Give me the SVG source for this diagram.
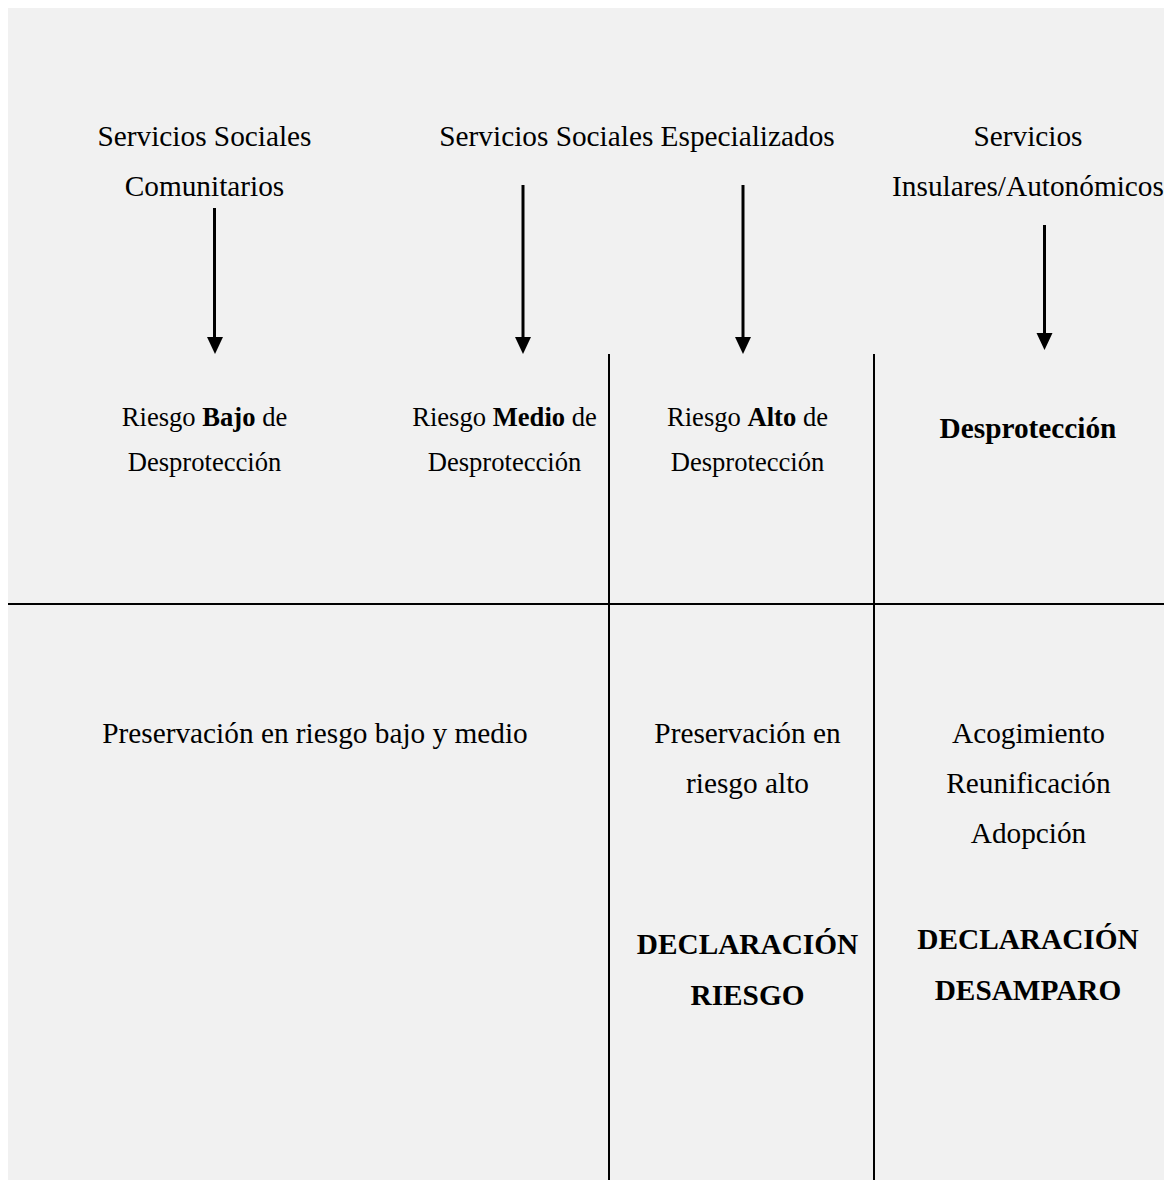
<svg xmlns="http://www.w3.org/2000/svg" width="1164" height="1180" viewBox="0 0 1164 1180">
  <style>
    text { font-family: "Liberation Serif", "Times New Roman", serif; fill: #000; text-anchor: middle; }
    .h { font-size: 29.3px; }
    .s { font-size: 26.6px; }
    .b { font-weight: bold; }
    .rule { stroke: #000; stroke-width: 2; fill: none; }
    .arrow { stroke: #000; stroke-width: 3; fill: none; }
    .head { fill: #000; }
  </style>

  <rect x="0" y="0" width="1164" height="1180" fill="#ffffff"/>
  <rect x="8" y="8" width="1156" height="1172" fill="#f1f1f1"/>

  <!-- connectors: table rules and down arrows -->
  <g id="connectors">
    <line class="rule" x1="8" y1="604" x2="1164" y2="604"/>
    <line class="rule" x1="609" y1="354" x2="609" y2="1180"/>
    <line class="rule" x1="874" y1="354" x2="874" y2="1180"/>
    <path class="arrow" d="M214.5,208 V338"/>
    <path class="head" d="M207,337 L223,337 L215,354 Z"/>
    <path class="arrow" d="M523,185 V338"/>
    <path class="head" d="M515,337 L531,337 L523,354 Z"/>
    <path class="arrow" d="M743,185 V338"/>
    <path class="head" d="M735,337 L751,337 L743,354 Z"/>
    <path class="arrow" d="M1044.5,225 V334"/>
    <path class="head" d="M1036.5,333 L1052.5,333 L1044.5,350 Z"/>
  </g>

  <g id="node-comunitarios">
    <text class="h" x="204.5" y="146">Servicios Sociales</text>
    <text class="h" x="204.5" y="196">Comunitarios</text>
  </g>
  <g id="node-especializados">
    <text class="h" x="637" y="146">Servicios Sociales Especializados</text>
  </g>
  <g id="node-insulares">
    <text class="h" x="1028" y="146">Servicios</text>
    <text class="h" x="1028" y="196">Insulares/Autonómicos</text>
  </g>

  <g id="node-riesgo-bajo">
    <text class="s" x="204.5" y="426">Riesgo <tspan class="b">Bajo</tspan> de</text>
    <text class="s" x="204.5" y="471">Desprotección</text>
  </g>
  <g id="node-riesgo-medio">
    <text class="s" x="504.5" y="426">Riesgo <tspan class="b">Medio</tspan> de</text>
    <text class="s" x="504.5" y="471">Desprotección</text>
  </g>
  <g id="node-riesgo-alto">
    <text class="s" x="747.5" y="426">Riesgo <tspan class="b">Alto</tspan> de</text>
    <text class="s" x="747.5" y="471">Desprotección</text>
  </g>
  <g id="node-desproteccion">
    <text class="h b" x="1028" y="438">Desprotección</text>
  </g>

  <g id="node-preservacion-bajo-medio">
    <text class="h" x="315" y="743">Preservación en riesgo bajo y medio</text>
  </g>
  <g id="node-preservacion-alto">
    <text class="h" x="747.5" y="743">Preservación en</text>
    <text class="h" x="747.5" y="793">riesgo alto</text>
    <text class="h b" x="747.5" y="954">DECLARACIÓN</text>
    <text class="h b" x="747.5" y="1005">RIESGO</text>
  </g>
  <g id="node-acogimiento">
    <text class="h" x="1028.5" y="743">Acogimiento</text>
    <text class="h" x="1028.5" y="793">Reunificación</text>
    <text class="h" x="1028.5" y="843">Adopción</text>
    <text class="h b" x="1028" y="949">DECLARACIÓN</text>
    <text class="h b" x="1028" y="1000">DESAMPARO</text>
  </g>
</svg>
